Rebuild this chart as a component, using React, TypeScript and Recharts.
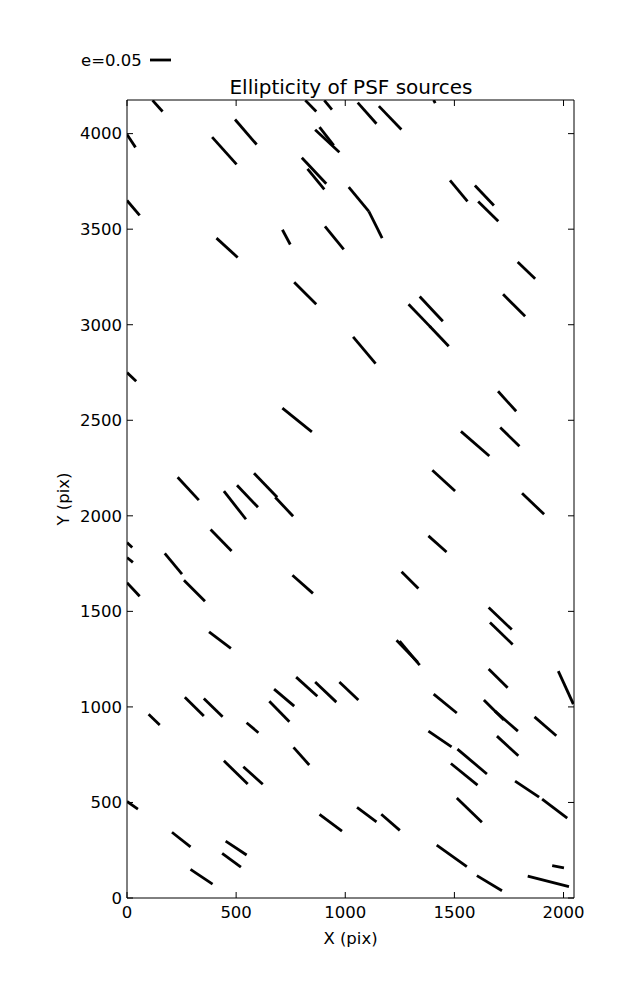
import React from 'react';
import { LineChart, Line, XAxis, YAxis } from 'recharts';

const xTicks = [0, 500, 1000, 1500, 2000];
const yTicks = [0, 500, 1000, 1500, 2000, 2500, 3000, 3500, 4000];

// whiskers as [x start, y start, x end, y end], CCD pixel units
const upperWhiskers = [
  [117, 4174, 163, 4116], [817, 4174, 867, 4116], [904, 4174, 939, 4126],
  [1405, 4176, 1412, 4160], [1057, 4162, 1143, 4052], [1154, 4144, 1257, 4022],
  [0, 3995, 39, 3928], [390, 3982, 502, 3839], [495, 4074, 594, 3943],
  [862, 4020, 973, 3903], [882, 4034, 947, 3938], [801, 3874, 913, 3738],
  [827, 3816, 904, 3708], [1016, 3720, 1108, 3593], [1108, 3593, 1169, 3453],
  [1480, 3755, 1560, 3645], [1594, 3729, 1681, 3624], [0, 3650, 58, 3572],
  [1609, 3645, 1701, 3541], [410, 3453, 507, 3352], [712, 3497, 748, 3420],
  [907, 3515, 993, 3394], [1790, 3328, 1870, 3241], [766, 3222, 867, 3107],
  [1341, 3148, 1447, 3018], [1723, 3159, 1824, 3044], [1290, 3107, 1392, 2986],
  [1387, 2992, 1474, 2887],
];

const middleWhiskers = [
  [1036, 2936, 1139, 2796], [0, 2750, 42, 2704], [1700, 2652, 1783, 2547],
  [712, 2564, 847, 2439], [1530, 2442, 1660, 2313], [1710, 2462, 1798, 2364],
  [232, 2202, 329, 2082], [1399, 2238, 1503, 2130], [444, 2129, 545, 1982],
  [504, 2160, 600, 2045], [582, 2223, 688, 2097], [679, 2097, 761, 1998],
  [1810, 2118, 1911, 2008], [383, 1928, 479, 1816], [1381, 1895, 1464, 1811],
  [0, 1860, 24, 1834], [0, 1782, 27, 1756], [173, 1803, 252, 1695],
  [758, 1689, 852, 1594], [1258, 1707, 1335, 1620], [0, 1650, 58, 1579],
  [261, 1663, 357, 1553], [1657, 1520, 1763, 1405],
];

const lowerWhiskers = [
  [376, 1393, 476, 1306], [1235, 1349, 1332, 1234], [1249, 1344, 1341, 1219],
  [1663, 1442, 1767, 1327], [1657, 1198, 1744, 1100], [1976, 1187, 2045, 1015],
  [674, 1093, 766, 1004], [775, 1156, 872, 1056], [862, 1130, 959, 1025],
  [973, 1130, 1060, 1036], [1405, 1067, 1511, 968], [1635, 1036, 1727, 931],
  [1686, 978, 1791, 873], [99, 961, 150, 905], [265, 1051, 352, 952],
  [352, 1044, 438, 948], [548, 917, 602, 865], [652, 1030, 744, 922],
  [763, 788, 835, 696], [444, 718, 553, 596], [533, 687, 622, 595],
  [1381, 873, 1487, 791], [1695, 847, 1793, 744], [1867, 948, 1967, 849],
  [1514, 779, 1649, 649], [1484, 704, 1606, 591], [1778, 612, 1888, 528],
  [1511, 523, 1626, 397], [1902, 518, 2017, 418], [0, 505, 50, 465],
  [206, 344, 291, 268], [452, 298, 548, 225], [436, 234, 522, 161],
  [291, 150, 392, 73], [882, 438, 985, 350], [1054, 474, 1143, 399],
  [1165, 438, 1250, 354], [1419, 277, 1557, 164], [1603, 117, 1718, 38],
  [1836, 115, 2025, 59], [1948, 169, 2002, 158],
];

const segments = [...upperWhiskers, ...middleWhiskers, ...lowerWhiskers].map(([x1, y1, x2, y2]) => [
  { x: x1, y: y1 },
  { x: x2, y: y2 },
]);

const font = 'DejaVu Sans, sans-serif';
const tickStyle = { fill: '#000', fontSize: 16.5, fontFamily: font };
const blank = () => '';

export default function App() {
  return (
    <div style={{ position: 'absolute', left: 0, top: 0, width: 637, height: 1000, background: '#fff' }}>
      <LineChart width={637} height={1000} margin={{ top: 99, right: 62, bottom: 0, left: 0 }}>
        <XAxis
          xAxisId="bottom"
          type="number"
          dataKey="x"
          domain={[0, 2048]}
          ticks={xTicks}
          allowDataOverflow
          height={102}
          tickSize={-6}
          tickMargin={14}
          axisLine={{ stroke: '#000' }}
          tickLine={{ stroke: '#000' }}
          tick={tickStyle}
          label={{ value: 'X (pix)', position: 'insideBottom', offset: 56, fill: '#000', fontSize: 16.5, fontFamily: font }}
        />
        <XAxis
          xAxisId="top"
          orientation="top"
          type="number"
          dataKey="x"
          domain={[0, 2048]}
          ticks={xTicks}
          allowDataOverflow
          height={1}
          tickSize={-6}
          tickFormatter={blank}
          axisLine={{ stroke: '#000' }}
          tickLine={{ stroke: '#000' }}
        />
        <YAxis
          yAxisId="left"
          type="number"
          domain={[0, 4176]}
          ticks={yTicks}
          allowDataOverflow
          width={127}
          tickSize={-6}
          tickMargin={11}
          axisLine={{ stroke: '#000' }}
          tickLine={{ stroke: '#000' }}
          tick={tickStyle}
          label={{ value: 'Y (pix)', position: 'center', angle: -90, fill: '#000', fontSize: 16.5, fontFamily: font }}
        />
        <YAxis
          yAxisId="right"
          orientation="right"
          type="number"
          domain={[0, 4176]}
          ticks={yTicks}
          allowDataOverflow
          width={1}
          tickSize={-6}
          tickFormatter={blank}
          axisLine={{ stroke: '#000' }}
          tickLine={{ stroke: '#000' }}
        />
        {segments.map((seg, i) => (
          <Line
            key={i}
            xAxisId="bottom"
            yAxisId="left"
            data={seg}
            dataKey="y"
            stroke="#000"
            strokeWidth={2.8}
            dot={false}
            activeDot={false}
            legendType="none"
            isAnimationActive={false}
          />
        ))}
      </LineChart>
      <svg width={637} height={1000} style={{ position: 'absolute', left: 0, top: 0, pointerEvents: 'none' }}>
        <text x={351} y={94} textAnchor="middle" fontSize={20} fontFamily={font} fill="#000">
          Ellipticity of PSF sources
        </text>
        <text x={81} y={66} fontSize={16.5} fontFamily={font} fill="#000">
          e=0.05
        </text>
        <line x1={150} y1={60} x2={171} y2={60} stroke="#000" strokeWidth={2.8} />
      </svg>
    </div>
  );
}
